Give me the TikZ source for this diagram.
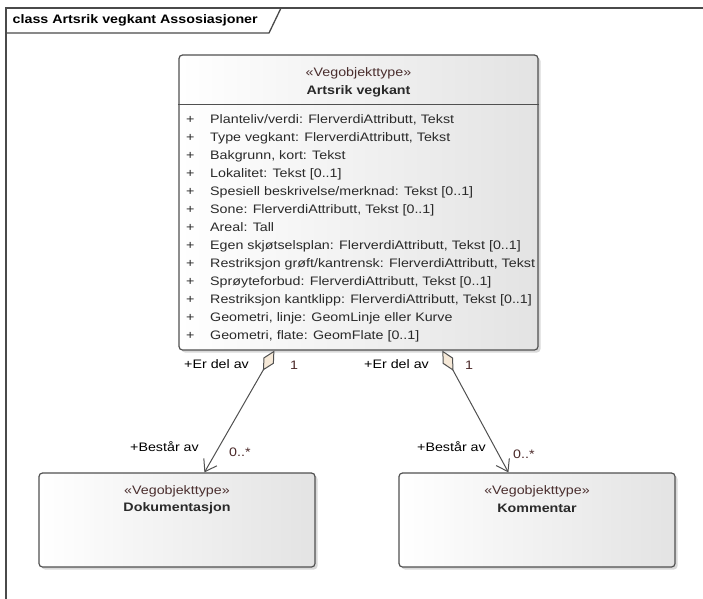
\documentclass[tikz,border=0pt]{standalone}
\usepackage{fontspec}
\setmainfont[FakeStretch=1.16]{Liberation Sans}
\usetikzlibrary{arrows.meta,shadows,calc}
\definecolor{frameline}{HTML}{4A4A4A}
\definecolor{boxline}{HTML}{505050}
\definecolor{boxgray}{HTML}{E3E3E3}
\definecolor{stereocol}{HTML}{4A2E2E}
\definecolor{textcol}{HTML}{2A2A2A}
\definecolor{multcol}{HTML}{4A2828}
\definecolor{diamondfill}{HTML}{F6E9D8}
\tikzset{
  frame/.style={draw=frameline, line width=1.3pt},
  classbox/.style={draw=boxline, line width=1.2pt, rounded corners=3.5pt,
    left color=white, right color=boxgray,
    drop shadow={shadow xshift=2.5pt, shadow yshift=-2.5pt, fill=black, opacity=0.15}},
  sep/.style={draw=boxline, line width=1pt},
  basefont/.style={font=\fontsize{12.3}{14}\selectfont},
  titletext/.style={font=\fontsize{12.3}{14}\selectfont\bfseries, text=black, inner sep=0pt},
  stereo/.style={basefont, text=stereocol, inner sep=0pt},
  cname/.style={font=\fontsize{12.3}{14}\selectfont\bfseries, text=textcol, inner sep=0pt},
  attr/.style={basefont, text=textcol, inner sep=0pt, anchor=mid west},
  lbl/.style={basefont, text=black, inner sep=0pt},
  mult/.style={basefont, text=multcol, inner sep=0pt},
  assoc/.style={draw=boxline, line width=1pt,
    {Diamond[length=23pt, width=12pt, fill=diamondfill, line width=1pt]}-{Straight Barb[length=11pt, width=15pt, line width=1pt]}}
}
\begin{document}
\begin{tikzpicture}[x=1pt,y=-1pt]
\useasboundingbox (0,0) rectangle (703,598);
\begin{scope}
  \clip (0,0) rectangle (703,598);
  \draw[frame] (6,8) rectangle (730,630);
\end{scope}
\draw[frame] (6,33) -- (269,33) -- (281,8);
\node[titletext, anchor=mid west] (title) at (12.5,21) {class Artsrik vegkant Assosiasjoner};

% main class
\node[classbox, minimum width=359pt, minimum height=295pt, inner sep=0pt] (main) at (358.5,202.5) {};
\draw[sep] ($(main.north west)+(0,50)$) coordinate (sepL) -- ($(main.north east)+(0,50)$) coordinate (sepR);
\node[stereo] (mst) at (358.5,73.5) {«Vegobjekttype»};
\node[cname] (mname) at (358.5,91) {Artsrik vegkant};
\foreach \t [count=\i from 0] in {
  {Planteliv/verdi: FlerverdiAttributt, Tekst},
  {Type vegkant: FlerverdiAttributt, Tekst},
  {Bakgrunn, kort: Tekst},
  {Lokalitet: Tekst [0..1]},
  {Spesiell beskrivelse/merknad: Tekst [0..1]},
  {Sone: FlerverdiAttributt, Tekst [0..1]},
  {Areal: Tall},
  {Egen skjøtselsplan: FlerverdiAttributt, Tekst [0..1]},
  {Restriksjon grøft/kantrensk: FlerverdiAttributt, Tekst},
  {Sprøyteforbud: FlerverdiAttributt, Tekst [0..1]},
  {Restriksjon kantklipp: FlerverdiAttributt, Tekst [0..1]},
  {Geometri, linje: GeomLinje eller Kurve},
  {Geometri, flate: GeomFlate [0..1]}} {
  \node[attr] (plus\i) at (186,{121+18*\i}) {+};
  \node[attr] (attr\i) at (210,{121+18*\i}) {\t};
}

% lower classes
\node[classbox, minimum width=276pt, minimum height=94pt, inner sep=0pt] (dok) at (177,520) {};
\node[stereo] (dst) at (177,491.5) {«Vegobjekttype»};
\node[cname] (dname) at (177,508) {Dokumentasjon};
\node[classbox, minimum width=276pt, minimum height=94pt, inner sep=0pt] (kom) at (537,520) {};
\node[stereo] (kst) at (537,491.5) {«Vegobjekttype»};
\node[cname] (kname) at (537,508) {Kommentar};

% associations
\coordinate (d1) at ($(main.south west)+(96,0)$);
\coordinate (t1) at ($(dok.north west)+(166,0)$);
\coordinate (d2) at ($(main.south west)+(264,0)$);
\coordinate (t2) at ($(kom.north west)+(110,0)$);
\draw[assoc] (d1) -- (t1);
\draw[assoc] (d2) -- (t2);

% labels
\node[lbl, anchor=mid west] (l1) at (184,366) {+Er del av};
\node[mult, anchor=mid west] (m1) at (290,367) {1};
\node[lbl, anchor=mid west] (l2) at (364,366) {+Er del av};
\node[mult, anchor=mid west] (m2) at (465,367) {1};
\node[lbl, anchor=mid east] (l3) at (199,449) {+Består av};
\node[mult, anchor=mid west] (m3) at (229,454) {0..*};
\node[lbl, anchor=mid east] (l4) at (486,449) {+Består av};
\node[mult, anchor=mid west] (m4) at (513,456) {0..*};
\end{tikzpicture}
\end{document}
